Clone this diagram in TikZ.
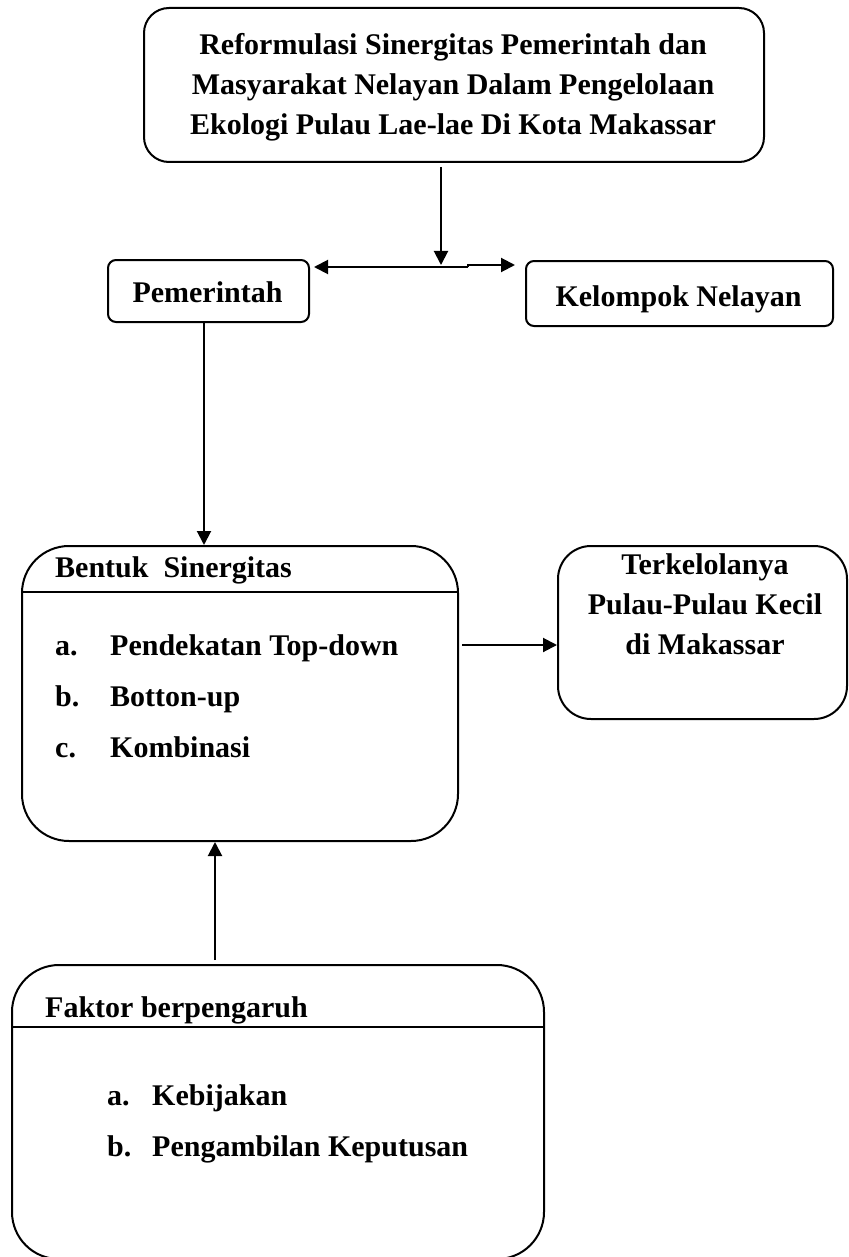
\documentclass[tikz,border=0pt]{standalone}
\usepackage{fontspec}
\setmainfont{Liberation Serif}
\usetikzlibrary{arrows.meta}
\begin{document}
\begin{tikzpicture}[x=1pt,y=-1pt,
  box/.style={draw, line width=2pt, rounded corners=#1, inner sep=0pt},
  box/.default=8pt,
  txt/.style={font=\fontsize{30}{40}\selectfont\bfseries, inner sep=0pt},
  arr/.style={line width=2pt, -{Triangle[length=14pt,width=14pt]}},
  rule/.style={line width=2pt}
]
\useasboundingbox (0,0) rectangle (848,1257);

% top box
\node[box=25pt, minimum width=620pt, minimum height=154pt, anchor=north west] (top) at (143,7) {};
\node[txt, anchor=base] (t1) at (453,55) {Reformulasi Sinergitas Pemerintah dan};
\node[txt, anchor=base] (t2) at (453,95) {Masyarakat Nelayan Dalam Pengelolaan};
\node[txt, anchor=base] (t3) at (453,135) {Ekologi Pulau Lae-lae Di Kota Makassar};

% Pemerintah / Kelompok Nelayan
\node[box=8pt, minimum width=201pt, minimum height=62pt, anchor=north west] (pem) at (107,259) {};
\node[txt, anchor=base] (pemt) at (207.5,302) {Pemerintah};
\node[box=8pt, minimum width=307pt, minimum height=65pt, anchor=north west] (kel) at (525,260) {};
\node[txt, anchor=base] (kelt) at (678.5,306) {Kelompok Nelayan};

% Bentuk Sinergitas
\node[box=47pt, minimum width=436pt, minimum height=295pt, anchor=north west] (ben) at (21,545) {};
\draw[rule] (ben.west |- 0,592) -- (ben.east |- 0,592);
\node[txt, anchor=base west] (bt) at (55,577) {Bentuk~ Sinergitas};
\node[txt, anchor=base west] (ba) at (55,655) {a.};
\node[txt, anchor=base west] (bat) at (110,655) {Pendekatan Top-down};
\node[txt, anchor=base west] (bb) at (55,706) {b.};
\node[txt, anchor=base west] (bbt) at (110,706) {Botton-up};
\node[txt, anchor=base west] (bc) at (55,757) {c.};
\node[txt, anchor=base west] (bct) at (110,757) {Kombinasi};

% Terkelolanya
\node[box=33pt, minimum width=289pt, minimum height=173pt, anchor=north west] (ter) at (557,545) {};
\node[txt, anchor=base] (te1) at (705,574) {Terkelolanya};
\node[txt, anchor=base] (te2) at (705,614) {Pulau-Pulau Kecil};
\node[txt, anchor=base] (te3) at (705,654) {di Makassar};

% Faktor berpengaruh
\node[box=47pt, minimum width=532pt, minimum height=294pt, anchor=north west] (fak) at (11,964) {};
\draw[rule] (fak.west |- 0,1027) -- (fak.east |- 0,1027);
\node[txt, anchor=base west] (ft) at (45,1017) {Faktor berpengaruh};
\node[txt, anchor=base west] (fa) at (107,1105) {a.};
\node[txt, anchor=base west] (fat) at (152,1105) {Kebijakan};
\node[txt, anchor=base west] (fb) at (107,1156) {b.};
\node[txt, anchor=base west] (fbt) at (152,1156) {Pengambilan Keputusan};

% connectors
\coordinate (a1) at (441,167);
\coordinate (k1) at (468,267);
\coordinate (k2) at (468,265);
\draw[arr] (a1) -- (a1 |- k2);
\draw[arr, shorten >=4pt] (k1) -- (k1 -| pem.east);
\draw[arr, shorten >=10pt] (k1) -- (k2) -- (k2 -| kel.west);
\coordinate (a2) at (204,322);
\draw[arr] (a2) -- (a2 |- ben.north);
\coordinate (a3) at (462,645);
\draw[arr] (a3) -- (a3 -| ter.west);
\coordinate (a4) at (215,960);
\draw[arr] (a4) -- (a4 |- ben.south);
\end{tikzpicture}
\end{document}
